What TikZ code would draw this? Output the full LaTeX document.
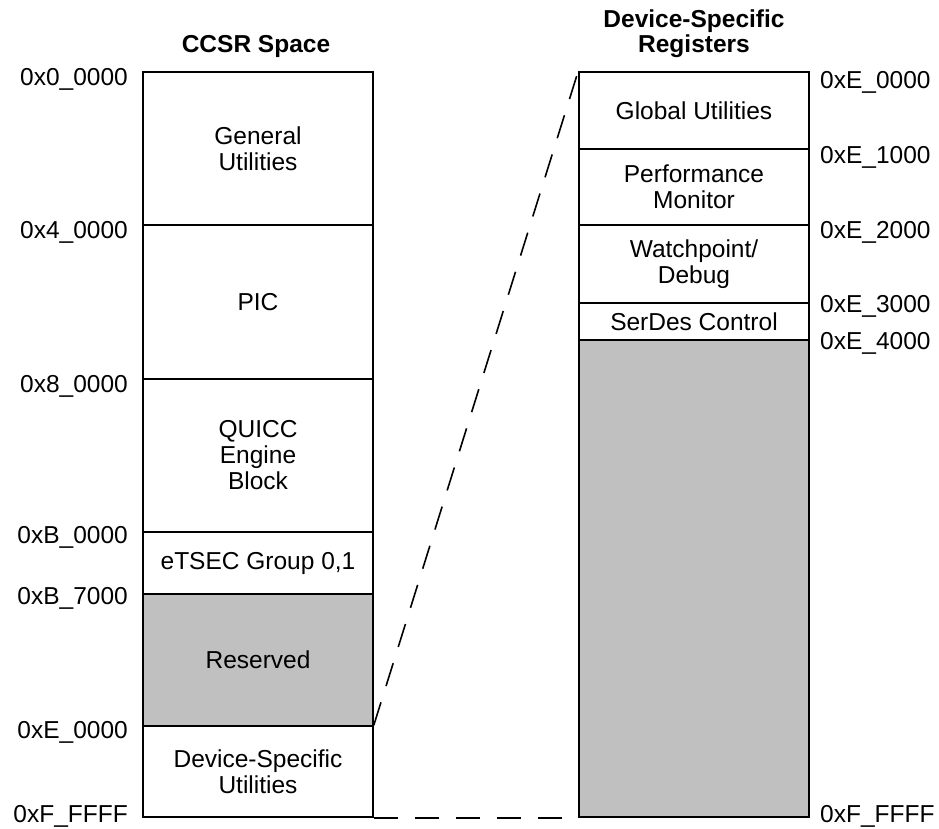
\documentclass[tikz,border=0pt]{standalone}
\usepackage{fontspec}
\setmainfont{Liberation Sans}
\definecolor{resgray}{RGB}{192,192,192}
\begin{document}
\begin{tikzpicture}[x=1pt,y=-1pt,
  every node/.style={font=\fontsize{24.5}{26}\selectfont},
  region/.style={draw=black, line width=1.6pt, minimum width=230pt, inner sep=0pt, align=center, anchor=center},
  resv/.style={region, fill=resgray},
  addrL/.style={anchor=base east, inner sep=0pt},
  addrR/.style={anchor=base west, inner sep=0pt},
  ttl/.style={font=\fontsize{24.5}{26}\selectfont\bfseries, align=center, inner sep=0pt},
  dashline/.style={line width=1.6pt, dash pattern=on 24pt off 17pt}
]
\useasboundingbox (0,0) rectangle (939,829);
% titles
\node[ttl, anchor=base] (t1) at (256,53) {CCSR Space};
\node[ttl, anchor=base] (t2a) at (694,28) {Device-Specific};
\node[ttl, anchor=base] (t2b) at (694,53) {Registers};
% left column
\node[region, minimum height=153pt] (gu) at (258,148.5) {General\\Utilities};
\node[region, minimum height=154pt] (pic) at (258,302) {PIC};
\node[region, minimum height=153pt] (qe) at (258,455.5) {QUICC\\Engine\\Block};
\node[region, minimum height=62pt] (et) at (258,563) {eTSEC Group 0,1};
\node[resv, minimum height=132pt] (rs) at (258,660) {Reserved};
\node[region, minimum height=91pt] (dsu) at (258,771.5) {Device-Specific\\Utilities};
% right column
\node[region, minimum height=77pt] (glu) at (694,110.5) {Global Utilities};
\node[region, minimum height=76pt] (pm) at (694,187) {Performance\\Monitor};
\node[region, minimum height=78pt] (wd) at (694,264) {Watchpoint/\\Debug};
\node[region, minimum height=37pt] (sd) at (694,321.5) {SerDes Control};
\node[resv, minimum height=477pt] (rs2) at (694,578.5) {};
% left addresses
\node[addrL] (a0) at (128,86) {0x0\_0000};
\node[addrL] (a4) at (128,238) {0x4\_0000};
\node[addrL] (a8) at (128,392) {0x8\_0000};
\node[addrL] (ab) at (128,543) {0xB\_0000};
\node[addrL] (ab7) at (128,604) {0xB\_7000};
\node[addrL] (ae) at (128,738) {0xE\_0000};
\node[addrL] (af) at (128,822) {0xF\_FFFF};
% right addresses
\node[addrR] (r0) at (820,89) {0xE\_0000};
\node[addrR] (r1) at (820,164) {0xE\_1000};
\node[addrR] (r2) at (820,238) {0xE\_2000};
\node[addrR] (r3) at (820,312) {0xE\_3000};
\node[addrR] (r4) at (820,349) {0xE\_4000};
\node[addrR] (rf) at (820,822) {0xF\_FFFF};
% connectors
\draw[dashline] (dsu.north east) -- (glu.north west);
\draw[dashline] (dsu.south east) -- (rs2.south west);
\end{tikzpicture}
\end{document}
